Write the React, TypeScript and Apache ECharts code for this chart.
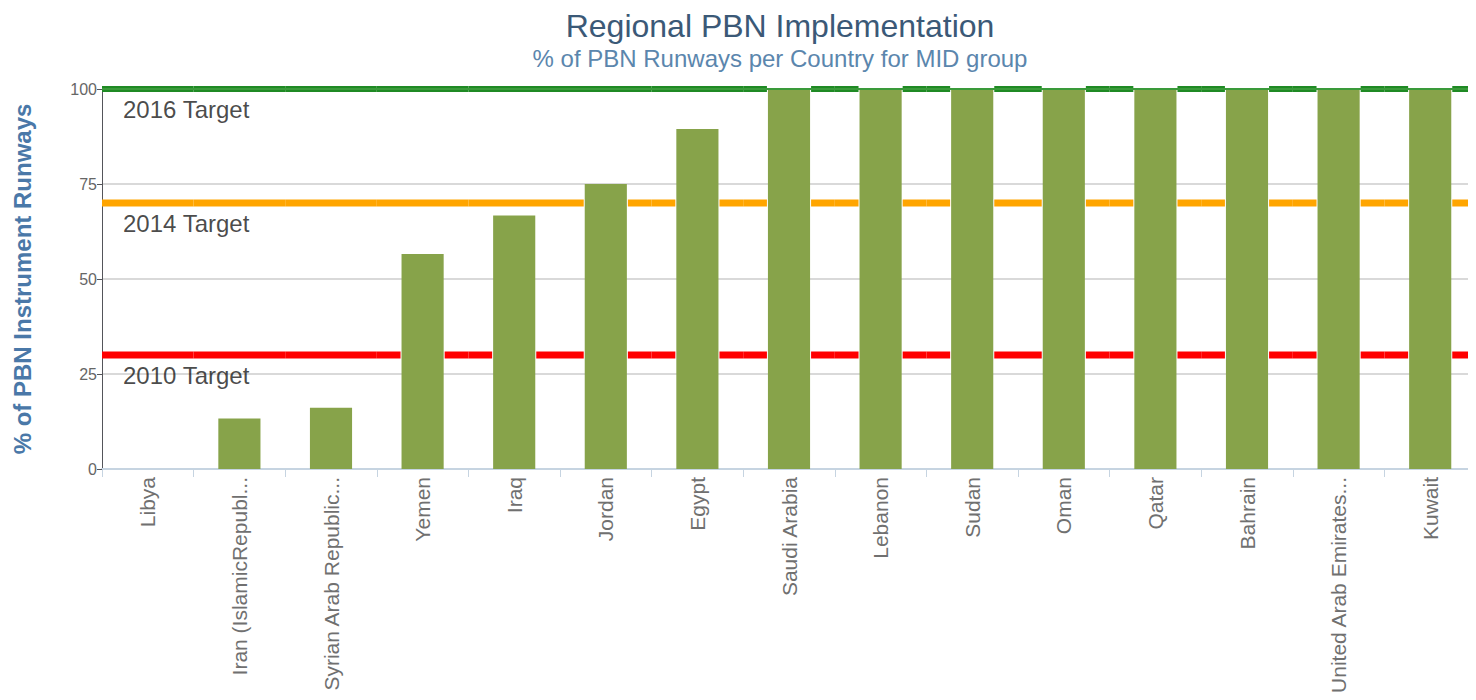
import React, { useEffect, useRef } from "react";
import * as echarts from "echarts";

const countries = [
  "Libya",
  "Iran (IslamicRepubl...",
  "Syrian Arab Republic...",
  "Yemen",
  "Iraq",
  "Jordan",
  "Egypt",
  "Saudi Arabia",
  "Lebanon",
  "Sudan",
  "Oman",
  "Qatar",
  "Bahrain",
  "United Arab Emirates...",
  "Kuwait",
];
const pbnPercent = [0, 13.3, 16.1, 56.6, 66.7, 75, 89.5, 100, 100, 100, 100, 100, 100, 100, 100];
const yTicks = [0, 25, 50, 75, 100];
const targetNames = ["2016 Target", "2014 Target", "2010 Target"];
const targetValues = [100, 70, 30];
const targetColors = ["#1f8a24", "#ffa500", "#ff0000"];
const targetWidths = [6, 7, 7];
const spanEnds = [0, 1];
const BAR_RATIO = 0.46;

export default function App() {
  const ref = useRef<HTMLDivElement>(null);
  useEffect(() => {
    if (!ref.current) return;
    const chart = echarts.init(ref.current, null, { renderer: "svg" });

    // target lines: drawn per category band, skipping the part hidden behind a taller bar
    const targetSeries = targetValues.map((t, k) => ({
      type: "custom",
      z: 1,
      silent: true,
      data: countries.map((_, i) => [i, t]),
      renderItem: (params: any, api: any) => {
        const idx = params.dataIndex;
        const bar = pbnPercent[idx];
        const p = api.coord([idx, t]);
        const band = api.size([1, 0])[0];
        const half = band / 2;
        const bw = (band * BAR_RATIO) / 2 + 1;
        const segs =
          bar >= t
            ? [
                [p[0] - half, p[0] - bw],
                [p[0] + bw, p[0] + half],
              ]
            : [[p[0] - half, p[0] + half]];
        return {
          type: "group",
          children: segs.map((s) => ({
            type: "line",
            shape: { x1: s[0], y1: p[1], x2: s[1], y2: p[1] },
            style: { stroke: targetColors[k], lineWidth: targetWidths[k] },
          })),
        };
      },
    }));

    const targetLabels = targetValues.map((v, i) => ({
      type: "scatter",
      xAxisIndex: 1,
      z: 30,
      symbolSize: 0,
      silent: true,
      data: [[0, v]],
      label: {
        show: true,
        formatter: targetNames[i],
        position: "bottom",
        align: "left",
        offset: [21, 3],
        fontSize: 24,
        color: "#1a1a1a",
      },
    }));

    chart.setOption({
      animation: false,
      textStyle: { fontFamily: "Liberation Sans, Arial, sans-serif" },
      title: [
        {
          text: "Regional PBN Implementation",
          left: 772,
          textAlign: "center",
          top: 1,
          padding: 0,
          textStyle: { fontSize: 32, lineHeight: 34, fontWeight: "normal", color: "#3b5977" },
        },
        {
          text: "% of PBN Runways per Country for MID group",
          left: 772,
          textAlign: "center",
          top: 37,
          padding: 0,
          textStyle: { fontSize: 24, lineHeight: 26, fontWeight: "normal", color: "#5b86ad" },
        },
      ],
      grid: { left: 94, right: 0, top: 81, bottom: 223, outerBoundsMode: "none", containLabel: false },
      xAxis: [
        {
          type: "category",
          data: countries,
          axisLine: { lineStyle: { color: "#c6d4e1", width: 2 } },
          axisTick: { show: true, lineStyle: { color: "#c6d4e1" }, length: 8 },
          axisLabel: {
            rotate: 90,
            interval: 0,
            fontSize: 21,
            color: "#707070",
            margin: 8,
          },
        },
        {
          type: "value",
          min: 0,
          max: 1,
          show: false,
        },
      ],
      yAxis: {
        type: "value",
        min: 0,
        max: 100,
        interval: 25,
        name: "% of PBN Instrument Runways",
        nameLocation: "middle",
        nameGap: 68,
        nameTextStyle: { fontSize: 24, fontWeight: "bold", color: "#4a78a8" },
        axisLabel: {
          fontSize: 16,
          color: "#666666",
          margin: 5,
          formatter: (v: number) => (yTicks.includes(v) ? String(v) : ""),
        },
        splitLine: { lineStyle: { color: "#cccccc", width: 1.5 } },
      },
      series: [
        ...targetSeries,
        {
          type: "bar",
          data: pbnPercent,
          barWidth: BAR_RATIO * 100 + "%",
          z: 5,
          itemStyle: { color: "#87a34a" },
        },
        ...targetLabels,
        {
          type: "line",
          xAxisIndex: 1,
          z: 20,
          symbol: "none",
          silent: true,
          data: spanEnds.map((x) => [x, targetValues[0]]),
          lineStyle: { color: "#3a9a3a", width: 2, type: "solid" },
        },
      ],
    });
    return () => chart.dispose();
  }, []);
  return <div ref={ref} style={{ width: 1468, height: 684 }} />;
}
